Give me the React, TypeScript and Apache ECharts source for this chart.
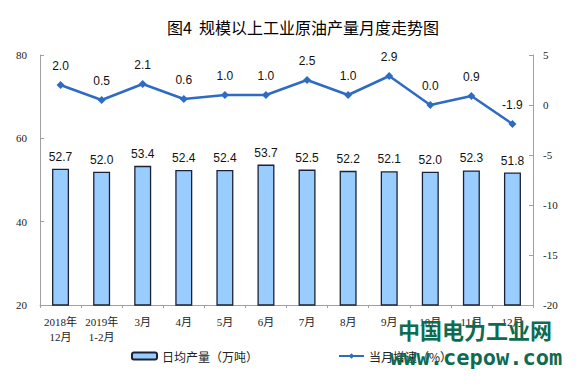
import React, { useEffect, useRef } from "react";
import * as echarts from "echarts";

const categories = ["2018年\n12月", "2019年\n1-2月", "3月", "4月", "5月", "6月", "7月", "8月", "9月", "10月", "11月", "12月"];
const dailyOutput = [52.7, 52.0, 53.4, 52.4, 52.4, 53.7, 52.5, 52.2, 52.1, 52.0, 52.3, 51.8];
const growthRate = [2.0, 0.5, 2.1, 0.6, 1.0, 1.0, 2.5, 1.0, 2.9, 0.0, 0.9, -1.9];
const titleText = "图4  规模以上工业原油产量月度走势图";
const barName = "日均产量（万吨）";
const lineName = "当月增速（%）";

export default function App() {
  const ref = useRef<HTMLDivElement>(null);
  useEffect(() => {
    const chart = echarts.init(ref.current!, null, { renderer: "svg" });
    const serif = "'Liberation Serif', 'Times New Roman', 'Noto Sans CJK SC', serif";
    const sans = "'Liberation Sans', Arial, sans-serif";
    chart.setOption({
      animation: false,
      backgroundColor: "#ffffff",
      title: {
        text: titleText,
        left: 162,
        top: 14,
        textStyle: { fontSize: 16, fontWeight: "normal", color: "#000", fontFamily: "'Noto Sans CJK SC', sans-serif" },
      },
      grid: { left: 40, right: 43, top: 55, bottom: 79 },
      legend: {
        left: 126,
        top: 345,
        itemWidth: 25,
        itemHeight: 7,
        itemGap: 80,
        textStyle: { fontSize: 12, color: "#222", fontFamily: "'Noto Sans CJK SC', sans-serif" },
        data: [barName, lineName],
      },
      xAxis: {
        type: "category",
        data: categories,
        axisLine: { onZero: false, lineStyle: { color: "#a0a0a0", width: 1 } },
        axisTick: { show: true, length: 3, lineStyle: { color: "#a0a0a0" } },
        axisLabel: { color: "#222", fontSize: 11, fontFamily: serif, margin: 9, lineHeight: 15, interval: 0 },
      },
      yAxis: [
        {
          type: "value",
          min: 20,
          max: 80,
          interval: 20,
          splitLine: { show: false },
          axisLine: { show: true, lineStyle: { color: "#a0a0a0" } },
          axisTick: { show: true, inside: true, length: 4, lineStyle: { color: "#a0a0a0" } },
          axisLabel: { color: "#222", fontSize: 11, fontFamily: serif, margin: 13 },
        },
        {
          type: "value",
          min: -20,
          max: 5,
          interval: 5,
          splitLine: { show: false },
          axisLine: { show: true, lineStyle: { color: "#a0a0a0" } },
          axisTick: { show: true, inside: true, length: 4, lineStyle: { color: "#a0a0a0" } },
          axisLabel: { color: "#222", fontSize: 11, fontFamily: serif, margin: 10 },
        },
      ],
      series: [
        {
          name: barName,
          type: "bar",
          data: dailyOutput,
          barWidth: 17,
          itemStyle: { color: "#99ccff", borderColor: "#1c2236", borderWidth: 1.3 },
          label: {
            show: true,
            position: "top",
            distance: 6,
            color: "#111",
            fontSize: 12,
            fontFamily: sans,
            formatter: (p: any) => p.value.toFixed(1),
          },
        },
        {
          name: lineName,
          type: "line",
          yAxisIndex: 1,
          data: growthRate,
          symbol: "diamond",
          symbolSize: 8,
          lineStyle: { color: "#2e6bc4", width: 2.5 },
          itemStyle: { color: "#2e6bc4" },
          label: {
            show: true,
            position: "top",
            distance: 9,
            color: "#111",
            fontSize: 12,
            fontFamily: sans,
            formatter: (p: any) => p.value.toFixed(1),
          },
        },
      ],
      graphic: [
        {
          type: "text",
          left: 398,
          top: 318,
          z: 100,
          style: {
            text: "中国电力工业网",
            fontSize: 22,
            fontWeight: "bold",
            fill: "#0d6b4f",
            fontFamily: "'Noto Sans CJK SC', sans-serif",
          },
        },
        {
          type: "text",
          left: 390,
          top: 346,
          z: 100,
          style: {
            text: "www.cepow.com",
            fontSize: 22,
            fontWeight: "bold",
            fill: "#0d6b4f",
            fontFamily: "'DejaVu Sans Mono', monospace",
          },
        },
      ],
    });
    return () => chart.dispose();
  }, []);
  return <div ref={ref} style={{ position: "absolute", left: 0, top: 0, width: 576, height: 384 }} />;
}
